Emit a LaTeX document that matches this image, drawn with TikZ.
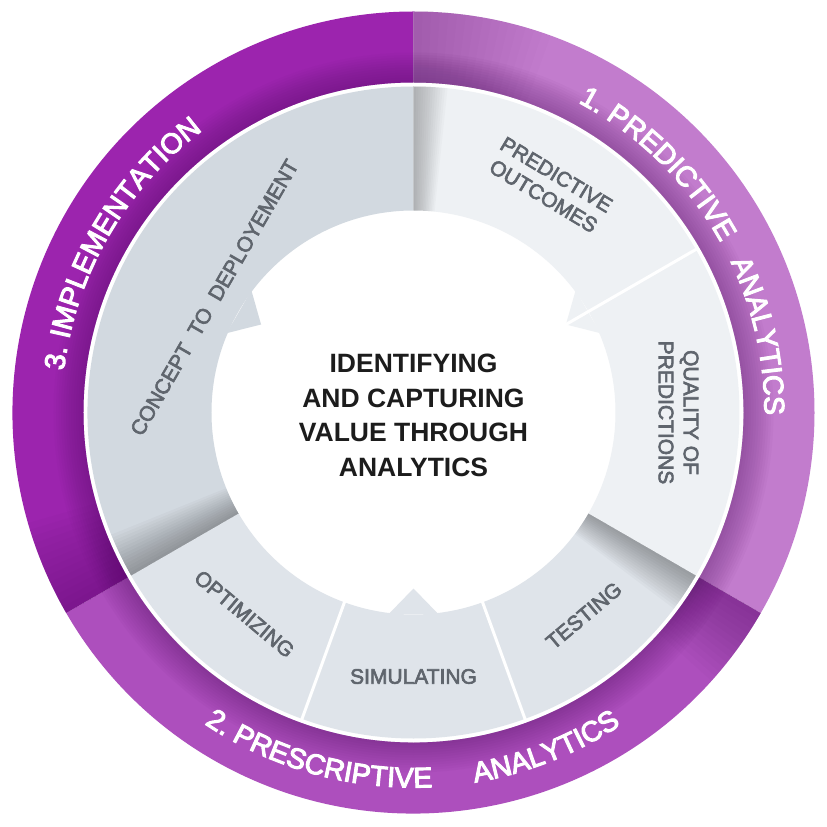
\documentclass[tikz,border=0pt]{standalone}
\usepackage{fontspec}
\setmainfont{Liberation Sans}
\newfontfamily\ringfam[FakeBold=3.5]{Liberation Sans}
\newfontfamily\lblfam[FakeBold=3]{Liberation Sans}
\usetikzlibrary{decorations.text}
\definecolor{implC}{HTML}{9C24AE}
\definecolor{presC}{HTML}{AD4FBD}
\definecolor{predC}{HTML}{C27CCD}
\definecolor{grayA}{HTML}{D2D9E0}
\definecolor{grayB}{HTML}{EEF1F4}
\definecolor{grayC}{HTML}{DFE4EA}
\definecolor{labelC}{HTML}{5F656D}
\definecolor{titleC}{HTML}{1C1C1C}
\definecolor{shadeP}{HTML}{4A0A5A}
\newcommand\ann[5]{\fill[#1] (#2:#4) arc[start angle=#2,end angle=#3,radius=#4] -- (#3:#5) arc[start angle=#3,end angle=#2,radius=#5] -- cycle;}
\newcommand\shadowband[7]{%
  \foreach \k in {1,...,#6}{%
    \pgfmathsetmacro\aa{#2-\k*#3/#6}%
    \ann{#1,opacity=#7}{\aa}{#2}{#4}{#5}}}
\newcommand\ringfont{\ringfam\fontsize{28.5}{28.5}\selectfont}
\tikzset{
  lbl/.style={text=labelC, font=\lblfam\fontsize{21}{25}\selectfont, align=center, inner sep=0pt},
  ringtext/.style={decorate, decoration={text along path, text={|\ringfont|#1}, text align=center, text color=white}}
}
\begin{document}
\begin{tikzpicture}[x=1pt,y=1pt]
\useasboundingbox (-413.5,-414.5) rectangle (413.5,412.5);
\fill[white] (-413.5,-414.5) rectangle (413.5,412.5);
% outer purple ring
\ann{implC}{90}{210}{330}{401}
\ann{presC}{210}{330}{330}{401}
\ann{predC}{-30}{90}{330}{401}
% radial darkening near inner edge
\foreach \k in {1,...,12}{\pgfmathsetmacro\rr{330+\k*2.5}
  \fill[shadeP,opacity=0.03,even odd rule] (0,0) circle[radius=\rr] (0,0) circle[radius=330];}
% cast shadows
\shadowband{shadeP}{90}{20}{330}{401}{16}{0.015}
\shadowband{shadeP}{210}{14}{330}{401}{14}{0.028}
\shadowband{shadeP}{330}{12}{330}{401}{14}{0.028}
% gray segments
\ann{grayA}{90}{210}{202}{326}
\ann{grayC}{210}{250}{202}{326}
\ann{grayC}{250}{290}{202}{326}
\ann{grayC}{290}{330}{202}{326}
\ann{grayB}{-30}{30}{202}{326}
\ann{grayB}{30}{90}{202}{326}
% teeth
\fill[grayA] (143:203) -- (150:176) -- (157:203) -- cycle;
\fill[grayB] (23:203) -- (30:176) -- (37:203) -- cycle;
\fill[grayC] (263:203) -- (270:176) -- (277:203) -- cycle;
% shadows on gray ring
\shadowband{black}{90}{6}{202}{326}{14}{0.018}
\shadowband{black}{210}{8}{202}{326}{14}{0.022}
\shadowband{black}{330}{7}{202}{326}{14}{0.022}
% white separators
\draw[white, line width=3] (30:173) -- (30:327);
\draw[white, line width=3] (250:200) -- (250:327);
\draw[white, line width=3] (290:200) -- (290:327);
% ring texts
\path[ringtext={3. IMPLEMENTATION}] (195:352) arc[start angle=195, end angle=105, radius=352];
\path[ringtext={1. PREDICTIVE}] (85.5:351) arc[start angle=85.5, end angle=5.5, radius=351];
\path[ringtext={ANALYTICS}] (52.5:351) arc[start angle=52.5, end angle=-27.5, radius=351];
\path[ringtext={2. PRESCRIPTIVE}] (209.5:375) arc[start angle=209.5, end angle=299.5, radius=375];
\path[ringtext={ANALYTICS}] (246.5:375) arc[start angle=246.5, end angle=336.5, radius=375];
% gray labels
\node[lbl, rotate=-31] (outc) at (59:265) {PREDICTIVE\\OUTCOMES};
\node[lbl, rotate=-90] (qual) at (0:265) {QUALITY OF\\PREDICTIONS};
\node[lbl, rotate=40] (test) at (310:265) {TESTING};
\node[lbl] (simu) at (270:264) {SIMULATING};
\node[lbl, rotate=-40] (opti) at (230:263) {OPTIMIZING};
\node[lbl, rotate=60] (conc) at (150:230) {CONCEPT\hspace{0.3em} TO\hspace{0.3em} DEPLOYEMENT};
% centre title
\node[text=titleC, font=\bfseries\fontsize{26.5}{34.7}\selectfont, align=center, inner sep=0pt] (title) at (0,-3) {IDENTIFYING\\AND CAPTURING\\VALUE THROUGH\\ANALYTICS};
\end{tikzpicture}
\end{document}
